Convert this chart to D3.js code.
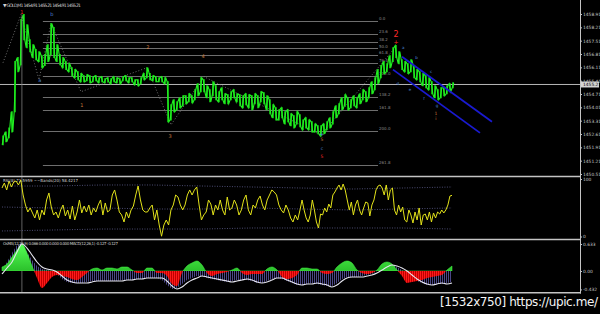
<!DOCTYPE html>
<meta charset="utf-8">
<script src="https://d3js.org/d3.v7.min.js"></script>
<style>
  body { margin: 0; background: #000; }
  svg { display: block; font-family: "DejaVu Sans", sans-serif; }
</style>
<div id="chart"></div>
<script>

// ---- price bars, GOLD M1 (high / low of each bar)
var barHigh = [
  1452.51,1452.72,1452.93,1453.78,1456.41,1456.62,1458.62,1458.88,1458.35,1457.56,
  1457.30,1457.04,1456.93,1456.72,1456.78,1457.30,1458.41,1458.20,1457.30,1456.78,
  1456.62,1456.41,1456.30,1456.09,1455.99,1455.88,1455.78,1455.67,1455.72,1455.67,
  1455.62,1455.67,1455.56,1455.62,1455.51,1455.56,1455.51,1455.62,1455.56,1455.51,
  1455.62,1455.67,1455.56,1455.56,1455.46,1455.46,1455.56,1455.78,1456.09,1455.78,
  1455.67,1455.62,1455.56,1455.62,1455.56,1455.35,1454.14,1454.41,1454.30,1454.51,
  1454.62,1454.62,1454.72,1454.62,1454.93,1455.25,1455.56,1455.46,1455.14,1454.93,
  1455.35,1455.14,1454.83,1455.04,1454.72,1454.67,1454.83,1454.93,1454.72,1454.67,
  1454.62,1454.72,1454.67,1454.62,1454.72,1454.62,1454.83,1454.77,1454.62,1454.41,
  1454.14,1453.99,1453.88,1453.99,1453.78,1453.88,1453.67,1453.57,1453.78,1453.62,
  1453.35,1453.46,1453.35,1453.25,1453.14,1453.04,1453.04,1453.14,1453.25,1453.46,
  1453.78,1454.09,1454.20,1454.51,1454.67,1454.51,1454.41,1454.62,1454.51,1454.72,
  1454.93,1454.83,1455.04,1455.35,1455.56,1455.99,1456.20,1456.41,1456.30,1456.72,
  1457.14,1457.25,1456.93,1456.51,1456.41,1456.30,1456.51,1456.20,1455.99,1455.88,
  1455.78,1455.67,1455.56,1455.35,1455.14,1454.93,1455.04,1455.04,1455.14,1455.25,
  1455.30];
var barLow = [
  1452.04,1452.20,1452.41,1452.72,1453.78,1455.88,1456.25,1457.56,1457.14,1456.93,
  1456.62,1456.51,1456.41,1456.09,1456.20,1456.41,1456.78,1456.62,1456.41,1456.25,
  1456.09,1455.99,1455.88,1455.67,1455.56,1455.46,1455.35,1455.35,1455.41,1455.30,
  1455.35,1455.41,1455.30,1455.35,1455.30,1455.35,1455.25,1455.35,1455.30,1455.25,
  1455.41,1455.41,1455.30,1455.35,1455.20,1455.14,1455.25,1455.46,1455.56,1455.46,
  1455.41,1455.35,1455.35,1455.35,1455.25,1453.25,1453.35,1453.78,1453.88,1453.99,
  1454.09,1454.20,1454.30,1454.25,1454.41,1454.62,1454.83,1454.83,1454.51,1454.30,
  1454.62,1454.41,1454.30,1454.41,1454.20,1454.20,1454.41,1454.51,1454.30,1454.09,
  1453.99,1454.14,1453.99,1453.88,1454.20,1453.99,1454.30,1454.20,1453.88,1453.67,
  1453.46,1453.35,1453.35,1453.46,1453.14,1453.25,1453.04,1452.93,1453.14,1452.99,
  1452.83,1452.93,1452.83,1452.72,1452.72,1452.62,1452.51,1452.62,1452.83,1452.93,
  1453.14,1453.46,1453.67,1453.88,1454.09,1453.88,1453.99,1454.09,1453.99,1454.20,
  1454.41,1454.30,1454.51,1454.72,1454.93,1455.25,1455.56,1455.78,1455.88,1456.09,
  1456.41,1456.62,1456.30,1455.99,1455.88,1455.78,1455.88,1455.56,1455.46,1455.35,
  1455.14,1455.04,1454.93,1454.72,1454.51,1454.41,1454.51,1454.62,1454.72,1454.83,
  1455.04];
var lastPrice = 1455.21;
var priceTicks = [1458.91,1458.21,1457.51,1456.81,1456.11,1455.41,1454.71,1454.01,1453.31,1452.61,1451.91,1451.21,1450.51];

// zigzag swing points (bar index, price)
var zigBars   = [0, 6, 12, 16, 26, 48, 56, 67, 106, 131];
var zigPrices = [1456.35, 1458.88, 1455.46, 1458.41, 1454.83, 1456.09, 1453.09, 1455.62, 1452.56, 1457.20];

// fibonacci levels
var fibRatios = [0, 23.6, 38.2, 50, 61.8, 76.4, 100, 138.2, 161.8, 200, 261.8];
var fibLabels = ["0.0", "23.6", "38.2", "50.0", "61.8", "76.4", "100.0", "138.2", "161.8", "200.0", "261.8"];
var fibTop = 1458.56, fibBottom = 1455.67;
var fibFromBar = 13.3, fibToBar = 125;

// down channel (bar index, price)
var chanUpper = [[133, 1456.67], [163, 1453.25]];
var chanLower = [[130, 1455.99], [159, 1452.67]];

// wave labels: bar, price, text, colour, size
var waveLabels = [
  [6.3, 1458.93, "1", "#ff2a2a", 5],
  [16.3, 1458.83, "b", "#4f86d8", 5],
  [12.3, 1455.35, "a", "#4f86d8", 5],
  [26.3, 1454.04, "1", "#c97a3c", 5],
  [48.3, 1457.08, "2", "#c97a3c", 5],
  [55.7, 1452.42, "3", "#c97a3c", 5],
  [66.7, 1456.62, "4", "#c97a3c", 5],
  [106.3, 1452.51, "+", "#4f86d8", 6],
  [106.3, 1452.23, "5", "#c97a3c", 4.5],
  [106.3, 1451.75, "c", "#4f86d8", 4.5],
  [106.3, 1451.33, "5", "#ff2a2a", 4.5],
  [131, 1457.70, "2", "#ff2a2a", 8],
  [131, 1457.33, "+", "#ff2a2a", 6],
  [133.4, 1457.05, "a", "#4f86d8", 4],
  [137.8, 1456.55, "b", "#4f86d8", 4],
  [142.7, 1455.83, "c", "#4f86d8", 4],
  [131.6, 1455.20, "d", "#4f86d8", 4],
  [135.7, 1454.88, "e", "#4f86d8", 4],
  [140.3, 1454.40, "f", "#4f86d8", 4],
  [144.7, 1454.03, "g", "#4f86d8", 4],
  [144.3, 1453.62, "1", "#c97a3c", 4.5],
  [144.3, 1453.35, "i", "#c97a3c", 4.5]
];
var separatorBar = 6.3;

// ---- RSI(8) + bands
var rsiValues = [
  84.3,93.0,80.9,96.5,86.1,94.8,96.5,89.6,98.3,72.2,
  54.8,42.6,49.6,40.9,32.2,46.1,28.7,46.1,37.4,63.5,
  75.7,51.3,37.4,42.6,32.2,46.1,54.8,35.7,46.1,30.4,
  53.0,28.7,42.6,63.5,40.9,53.0,42.6,54.8,37.4,49.6,
  42.6,54.8,63.5,37.4,58.3,42.6,46.1,72.2,80.9,63.5,
  42.6,37.4,25.2,42.6,32.2,46.1,53.0,72.2,87.8,63.5,
  46.1,42.6,42.6,49.6,54.8,28.7,46.1,20.0,0.5,20.0,
  28.7,20.0,46.1,54.8,72.2,68.7,54.8,46.1,54.8,72.2,
  80.9,72.2,80.9,86.1,54.8,28.7,37.4,42.6,63.5,56.5,
  37.4,54.8,46.1,63.5,46.1,37.4,68.7,46.1,49.6,63.5,
  54.8,37.4,46.1,63.5,72.2,46.1,37.4,54.8,49.6,63.5,
  70.4,54.8,46.1,63.5,72.2,80.9,77.4,72.2,54.8,46.1,
  40.9,54.8,46.1,32.2,25.2,37.4,28.7,
  46.1,63.5,46.1,32.2,25.2,37.4,63.5,46.1,25.2,14.8,
  39.1,37.4,49.6,42.6,56.5,49.6,72.2,77.4,84.3,89.6,
  80.9,91.3,80.9,63.5,46.1,60.0,37.4,54.8,63.5,46.1,
  37.4,49.6,60.0,58.3,35.7,54.8,63.5,80.9,87.8,89.6,
  84.3,72.2,89.6,63.5,80.9,84.3,46.1,37.4,54.8,42.6,
  51.3,28.7,25.2,46.1,37.4,23.5,42.6,28.7,49.6,20.0,
  37.4,39.1,28.7,42.6,25.2,40.9,32.2,42.6,39.1,46.1,
  40.9,46.1,54.8,70.4,71.6];
var rsiBandUpper = [87.8,87.8,89.6,89.6,87.8,86.1,84.3,82.6,84.3,86.1];
var rsiBandMid   = [51.3,49.6,49.6,47.8,47.8,49.6,47.8,46.1,47.8,49.6];
var rsiBandLower = [9.6,11.3,13.0,13.0,13.0,14.8,14.8,14.8,14.8,13.0];

// ---- OsMA / MACD(12,26,9)
var osmaValues = [
  0.094,0.164,0.328,0.492,0.633,0.422,0.117,-0.164,-0.398,-0.281,
  -0.141,-0.094,-0.117,-0.141,-0.188,-0.211,-0.141,-0.047,0.047,0.070,
  0.023,0.070,0.070,0.047,0.094,0.094,0.023,-0.047,-0.047,0.070,
  0.070,-0.047,-0.047,-0.117,-0.305,-0.352,-0.047,0.117,0.188,0.234,
  0.141,-0.047,-0.117,-0.070,-0.047,-0.023,0.023,0.070,-0.047,-0.094,
  -0.070,-0.070,-0.070,0.047,0.094,0.023,-0.141,-0.188,-0.164,-0.094,
  0.070,0.070,0.047,0.047,-0.047,-0.070,-0.047,0.094,0.188,0.234,
  0.188,0.023,-0.047,-0.070,-0.047,0.023,0.164,0.211,0.164,0.023,
  -0.117,-0.281,-0.258,-0.234,-0.211,-0.164,-0.141,-0.117,-0.094,0.023,
  0.117];
var macdMain = [
  0.023,0.211,0.422,0.609,0.656,0.445,0.258,0.117,0.047,0.023,
  0,-0.070,-0.188,-0.258,-0.281,-0.281,-0.281,-0.258,-0.234,-0.234,
  -0.234,-0.234,-0.234,-0.234,-0.211,-0.211,-0.211,-0.188,-0.188,-0.164,
  -0.164,-0.164,-0.211,-0.328,-0.422,-0.398,-0.305,-0.211,-0.164,-0.117,
  -0.117,-0.164,-0.188,-0.211,-0.234,-0.258,-0.234,-0.211,-0.211,-0.211,
  -0.234,-0.281,-0.281,-0.234,-0.188,-0.164,-0.188,-0.234,-0.281,-0.328,
  -0.328,-0.305,-0.281,-0.305,-0.328,-0.352,-0.352,-0.281,-0.188,-0.141,
  -0.141,-0.141,-0.117,-0.094,-0.070,0,0.070,0.141,0.141,0.094,
  0.023,-0.070,-0.164,-0.234,-0.281,-0.328,-0.328,-0.305,-0.305,-0.281,
  -0.258];
var macdSignal = [
  -0.070,0.070,0.211,0.445,0.633,0.539,0.375,0.211,0.094,0.047,
  0.023,-0.023,-0.117,-0.211,-0.258,-0.281,-0.281,-0.281,-0.258,-0.234,
  -0.234,-0.234,-0.234,-0.234,-0.234,-0.211,-0.211,-0.188,-0.188,-0.164,
  -0.164,-0.164,-0.164,-0.234,-0.352,-0.422,-0.375,-0.281,-0.211,-0.164,
  -0.117,-0.141,-0.164,-0.188,-0.211,-0.234,-0.258,-0.234,-0.211,-0.188,
  -0.211,-0.258,-0.281,-0.258,-0.211,-0.164,-0.164,-0.211,-0.258,-0.305,
  -0.328,-0.305,-0.305,-0.281,-0.305,-0.328,-0.375,-0.328,-0.234,-0.164,
  -0.141,-0.141,-0.141,-0.117,-0.094,-0.047,0.023,0.094,0.141,0.117,
  0.070,0,-0.094,-0.188,-0.258,-0.305,-0.328,-0.305,-0.281,-0.305,
  -0.281];
var macdTicks = [0.633, 0, -0.432];
var macdTickText = ["0.633", "0.00", "-0.432"];

// ---------------------------------------------------------------
var W = 600, H = 314;
var svg = d3.select("#chart").append("svg")
  .attr("width", W).attr("height", H)
  .style("background", "#000");

var defs = svg.append("defs");
var pat = defs.append("pattern").attr("id", "purple").attr("patternUnits", "userSpaceOnUse")
  .attr("width", 2).attr("height", 4);
pat.append("rect").attr("width", 1).attr("height", 4).attr("fill", "#4b4787");
var redPat = defs.append("pattern").attr("id", "red").attr("patternUnits", "userSpaceOnUse")
  .attr("width", 2).attr("height", 4);
redPat.append("rect").attr("width", 2).attr("height", 4).attr("fill", "#c00000");
redPat.append("rect").attr("width", 1).attr("height", 4).attr("fill", "#ff1a1a");
var grad = defs.append("linearGradient").attr("id", "green").attr("x1", 0).attr("x2", 0).attr("y1", 0).attr("y2", 1);
grad.append("stop").attr("offset", "0%").attr("stop-color", "#55ff55");
grad.append("stop").attr("offset", "100%").attr("stop-color", "#119911");

// scales
var xBar = d3.scaleLinear().domain([0, barHigh.length - 1]).range([3, 453]);
var yPrice = d3.scaleLinear().domain([1450.51, 1458.91]).range([174, 14]);
var xRsi = d3.scaleLinear().domain([0, 127, rsiValues.length - 1]).range([2, 300, 452]);
var xBand = d3.scaleLinear().domain([0, rsiBandUpper.length - 1]).range([2, 452]);
var yRsi = d3.scaleLinear().domain([0, 100]).range([236.5, 179]);
var xInd = d3.scaleLinear().domain([0, macdMain.length - 1]).range([2, 452]);
var yMacd = d3.scaleLinear().domain([0, 0.633]).range([271, 244]);

// ---- main panel
var main = svg.append("g");

// fibo levels
fibRatios.forEach(function(r, i) {
  var p = fibTop - r / 100 * (fibTop - fibBottom);
  main.append("line")
    .attr("x1", xBar(fibFromBar)).attr("x2", xBar(fibToBar))
    .attr("y1", Math.round(yPrice(p)) + 0.5).attr("y2", Math.round(yPrice(p)) + 0.5)
    .attr("stroke", "#6e6e6e").attr("stroke-width", 1);
  main.append("text")
    .attr("x", xBar(fibToBar) + 1).attr("y", yPrice(p) - 0.5)
    .attr("fill", "#8a8a8a").attr("font-size", 4)
    .text(fibLabels[i]);
});

// current price line
main.append("line")
  .attr("x1", 0).attr("x2", 580)
  .attr("y1", yPrice(lastPrice)).attr("y2", yPrice(lastPrice))
  .attr("stroke", "#b8b8b8").attr("stroke-width", 1);

// period separator
svg.append("line")
  .attr("x1", xBar(separatorBar)).attr("x2", xBar(separatorBar))
  .attr("y1", yPrice(1458.85)).attr("y2", 292)
  .attr("stroke", "#7a7a7a").attr("stroke-width", 0.8);

// zigzag
var zig = zigBars.map(function(b, i) { return [xBar(b), yPrice(zigPrices[i])]; });
main.append("path")
  .attr("d", d3.line()(zig))
  .attr("fill", "none").attr("stroke", "#8a8a8a").attr("stroke-width", 0.8)
  .attr("stroke-dasharray", "1,2");

// bars: high-low strokes plus a jagged trace through them
main.selectAll("line.bar")
  .data(barHigh)
  .enter().append("line")
    .attr("class", "bar")
    .attr("x1", function(d, i) { return xBar(i); })
    .attr("x2", function(d, i) { return xBar(i); })
    .attr("y1", function(d) { return yPrice(d) - 0.5; })
    .attr("y2", function(d, i) { return yPrice(barLow[i]) + 0.5; })
    .attr("stroke", "#16e016").attr("stroke-width", 1.5);
var trace = [];
barHigh.forEach(function(h, i) {
  var a = i % 2 ? h : barLow[i], b = i % 2 ? barLow[i] : h;
  trace.push([xBar(i) - 0.8, yPrice(a)]);
  trace.push([xBar(i) + 0.8, yPrice(b)]);
});
main.append("path")
  .attr("d", d3.line()(trace))
  .attr("fill", "none").attr("stroke", "#22f022").attr("stroke-width", 1.1);

// channel
[chanUpper, chanLower].forEach(function(c) {
  main.append("line")
    .attr("x1", xBar(c[0][0])).attr("y1", yPrice(c[0][1]))
    .attr("x2", xBar(c[1][0])).attr("y2", yPrice(c[1][1]))
    .attr("stroke", "#1a1ad0").attr("stroke-width", 1.8);
});

// wave labels
main.selectAll("text.wave")
  .data(waveLabels)
  .enter().append("text")
    .attr("class", "wave")
    .attr("x", function(d) { return xBar(d[0]); })
    .attr("y", function(d) { return yPrice(d[1]); })
    .attr("text-anchor", "middle")
    .attr("fill", function(d) { return d[3]; })
    .attr("font-size", function(d) { return d[4]; })
    .text(function(d) { return d[2]; });

// header
svg.append("text").attr("x", 3).attr("y", 6.5)
  .attr("fill", "#d0d0d0").attr("font-size", 4.6)
  .attr("textLength", 78)
  .text("\u25BC GOLD,M1  1454.91 1455.21 1454.91 1455.21");

// ---- RSI panel
[rsiBandUpper, rsiBandMid, rsiBandLower].forEach(function(b) {
  svg.append("path")
    .attr("d", d3.line().x(function(d, i) { return xBand(i); }).y(function(d) { return yRsi(d); })(b))
    .attr("fill", "none").attr("stroke", "#5e5e8e").attr("stroke-width", 0.8)
    .attr("stroke-dasharray", "1,1.5");
});
svg.append("path")
  .attr("d", d3.line().x(function(d, i) { return xRsi(i); }).y(function(d) { return yRsi(d); })(rsiValues))
  .attr("fill", "none").attr("stroke", "#e2e21a").attr("stroke-width", 1);
svg.append("text").attr("x", 3).attr("y", 181.5)
  .attr("fill", "#cfcfcf").attr("font-size", 4)
  .attr("textLength", 75)
  .text("RSI(8) 71.5959  ~~Bands(20) 58.4217");

// ---- MACD panel
var zeroY = yMacd(0);
svg.append("path")
  .attr("d", d3.area().x(function(d, i) { return xInd(i); }).y0(zeroY).y1(function(d) { return yMacd(d); })(macdMain))
  .attr("fill", "url(#purple)");

defs.append("clipPath").attr("id", "above").append("rect")
  .attr("x", 0).attr("y", 240).attr("width", 580).attr("height", zeroY - 240);
defs.append("clipPath").attr("id", "below").append("rect")
  .attr("x", 0).attr("y", zeroY).attr("width", 580).attr("height", 293 - zeroY);
var osmaArea = d3.area().curve(d3.curveMonotoneX)
  .x(function(d, i) { return xInd(i); }).y0(zeroY).y1(function(d) { return yMacd(d); });
svg.append("path").attr("d", osmaArea(osmaValues))
  .attr("clip-path", "url(#above)").attr("fill", "url(#green)")
  .attr("stroke", "#44ff44").attr("stroke-width", 0.5);
svg.append("path").attr("d", osmaArea(osmaValues))
  .attr("clip-path", "url(#below)").attr("fill", "url(#red)");

svg.append("path")
  .attr("d", d3.line().curve(d3.curveMonotoneX).x(function(d, i) { return xInd(i); }).y(function(d) { return yMacd(d); })(macdSignal))
  .attr("fill", "none").attr("stroke", "#e6e6f0").attr("stroke-width", 1.1);

svg.append("text").attr("x", 3).attr("y", 245)
  .attr("fill", "#cfcfcf").attr("font-size", 4)
  .attr("textLength", 115)
  .text("OsMA(12,26,9) 0.066 0.000 0.000 0.000  MACD(12,26,1) -0.127 -0.127");

// ---- separators + right axis
[176.5, 239.5, 292.8].forEach(function(y) {
  svg.append("line").attr("x1", 0).attr("x2", 581).attr("y1", y).attr("y2", y)
    .attr("stroke", "#c4c4c4").attr("stroke-width", 1.6);
});
svg.append("line").attr("x1", 580.5).attr("x2", 580.5).attr("y1", 0).attr("y2", 293.5)
  .attr("stroke", "#c4c4c4").attr("stroke-width", 1);

function styleAxis(g) {
  g.select(".domain").remove();
  g.selectAll(".tick line").attr("stroke", "#c4c4c4");
  g.selectAll(".tick text").attr("fill", "#c8c8c8").attr("font-size", 4.4)
    .attr("font-family", "DejaVu Sans").attr("x", 3);
}
svg.append("g").attr("transform", "translate(580,0)")
  .call(d3.axisRight(yPrice).tickValues(priceTicks).tickSize(2).tickFormat(d3.format(".2f")))
  .call(styleAxis);
svg.append("g").attr("transform", "translate(580,0)")
  .call(d3.axisRight(yRsi).tickValues([100, 0]).tickSize(2))
  .call(styleAxis);
svg.append("g").attr("transform", "translate(580,0)")
  .call(d3.axisRight(yMacd).tickValues(macdTicks).tickSize(2)
    .tickFormat(function(d, i) { return macdTickText[i]; }))
  .call(styleAxis);

// last price box
svg.append("rect").attr("x", 581).attr("y", yPrice(lastPrice) - 3)
  .attr("width", 18).attr("height", 6).attr("fill", "#d4d4d4");
svg.append("text").attr("x", 583).attr("y", yPrice(lastPrice) + 1.6)
  .attr("fill", "#000").attr("font-size", 4.4).text(d3.format(".2f")(lastPrice));

// watermark
svg.append("text").attr("x", 440).attr("y", 306)
  .attr("fill", "#f4f4f4").attr("font-size", 12)
  .attr("textLength", 158)
  .text("[1532x750] https://upic.me/");

</script>
